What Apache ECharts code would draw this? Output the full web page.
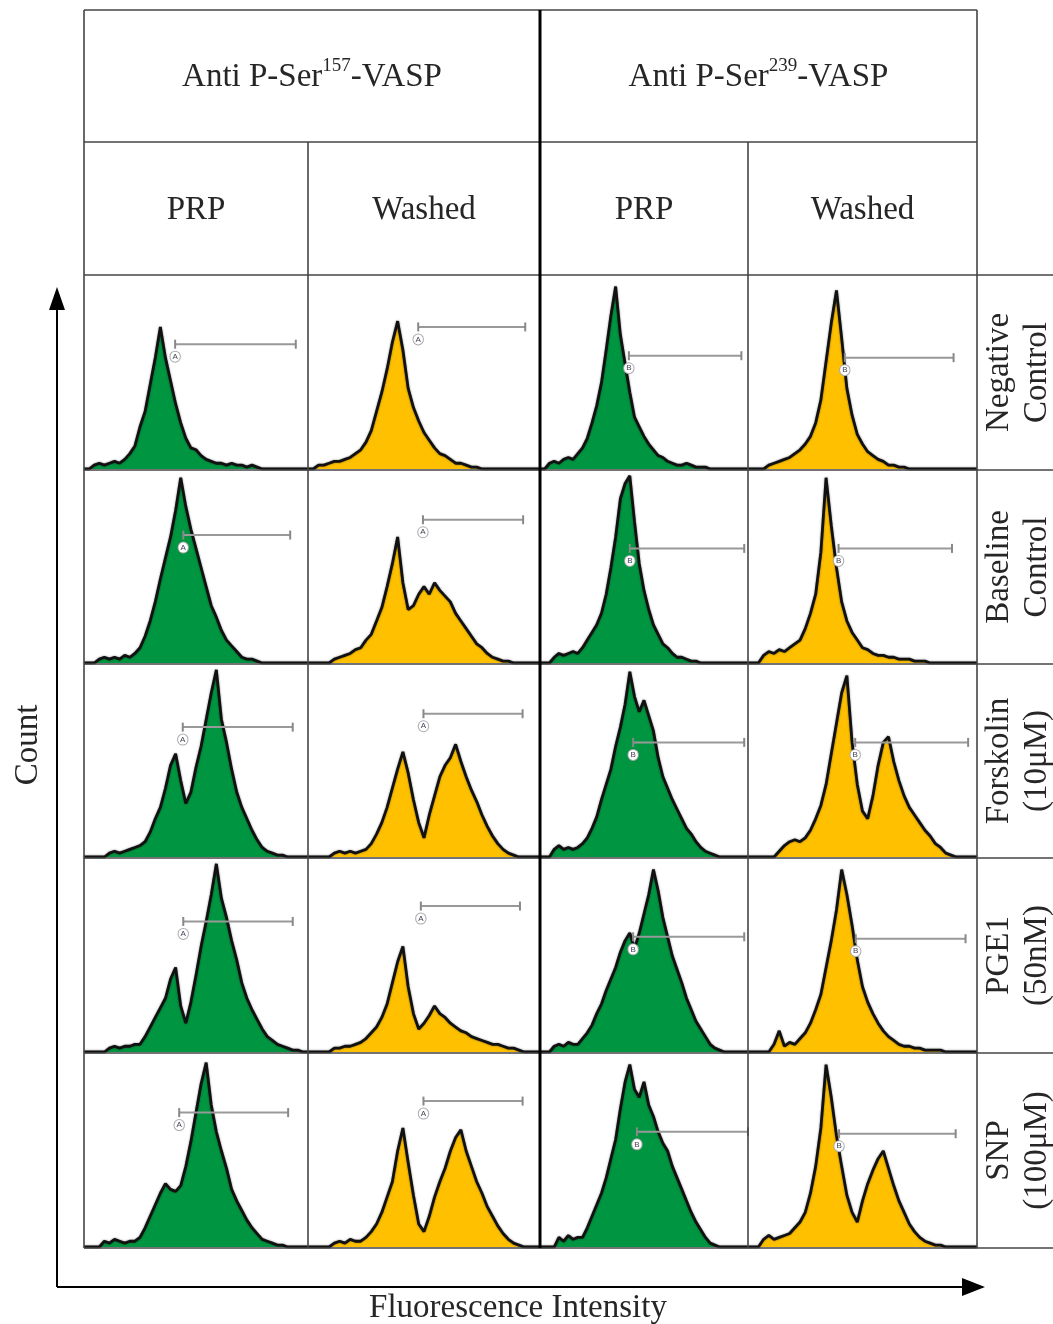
<!DOCTYPE html>
<html lang="en">
<head>
<meta charset="UTF-8">
<title>VASP phosphorylation histograms</title>
<style>
    html, body {margin: 0; background: #fff;}
    #main {width: 1053px; height: 1324px;}
</style>
</head>
<body>
<div id="main"></div>
<script src="https://cdn.jsdelivr.net/npm/echarts@6/dist/echarts.min.js"></script>
<script>
    // column headers, left half = Ser157, right half = Ser239
    const antibodies = ['157', '239']
    const columns = ['PRP', 'Washed', 'PRP', 'Washed']
    const treatments = [
        ['Negative', 'Control'],
        ['Baseline', 'Control'],
        ['Forskolin', '(10μM)'],
        ['PGE1', '(50nM)'],
        ['SNP', '(100μM)']
    ]
    const gateLetters = ['A', 'A', 'B', 'B']

    // histogram counts (% of panel height), 45 channels per panel
    // order in each row: 157 PRP, 157 Washed, 239 PRP, 239 Washed
    const negativeControl = [
        [0,0,2,3,2,3,4,3,5,8, 12,22,30,44,58,74,58,46,34,24, 16,11,10,7,5,4,3,3,2,3, 2,2,1,2,1,0,0,0,0,0, 0,0,0,0,0],
        [0,0,2,2,3,4,4,5,6,8, 10,14,20,30,40,52,66,77,62,42, 32,25,19,15,11,8,7,5,3,3, 2,1,1,0,0,0,0,0,0,0, 0,0,0,0,0],
        [0,0,3,4,3,5,6,5,8,11, 16,24,33,45,62,80,95,70,55,40, 27,22,17,13,10,7,6,4,3,2, 2,3,2,1,1,1,0,0,0,0, 0,0,0,0,0],
        [0,0,0,0,2,3,4,5,6,8, 10,13,17,24,36,56,76,93,68,42, 28,18,13,9,7,5,4,2,2,1, 1,0,0,0,0,0,0,0,0,0, 0,0,0,0,0]
    ]
    const baselineControl = [
        [0,0,0,2,3,2,3,2,4,3, 5,8,14,22,32,44,55,66,80,97, 82,70,60,50,40,30,24,17,12,9, 6,3,2,2,1,0,0,0,0,0, 0,0,0,0,0],
        [0,0,0,0,0,2,3,4,5,7, 8,12,15,22,29,40,52,66,42,28, 30,36,40,36,42,38,35,32,26,22, 18,14,10,8,5,3,2,1,1,0, 0,0,0,0,0],
        [0,0,0,3,5,4,5,6,5,8, 12,16,20,26,36,50,66,86,94,98, 74,52,38,28,20,15,10,8,5,3, 3,2,1,1,0,0,0,0,0,0, 0,0,0,0,0],
        [0,0,0,4,6,5,7,6,8,10, 12,18,26,36,58,97,72,50,32,22, 16,12,8,7,5,4,4,3,3,2, 2,2,1,1,1,0,0,0,0,0, 0,0,0,0,0]
    ]
    const forskolin = [
        [0,0,0,0,0,2,3,2,3,4, 5,6,8,13,20,26,36,48,54,40, 28,34,47,58,72,86,98,72,60,46, 34,26,20,14,9,5,3,2,1,1, 0,0,0,0,0],
        [0,0,0,0,0,2,3,2,3,2, 3,4,7,12,18,26,36,46,55,44, 30,18,10,22,32,42,48,52,59,50, 42,35,29,22,16,11,7,4,2,1, 0,0,0,0,0],
        [0,0,0,4,6,4,5,4,5,7, 10,15,21,30,38,46,58,68,80,97, 84,76,82,74,66,52,42,36,30,25, 20,15,12,8,5,3,2,1,0,0, 0,0,0,0,0],
        [0,0,0,0,0,0,3,6,8,9, 8,10,14,20,27,38,54,70,86,95, 60,38,24,20,32,48,60,63,50,40, 32,26,22,18,14,11,7,5,2,1, 0,0,0,0,0]
    ]
    const pge1 = [
        [0,0,0,0,0,2,3,2,3,3, 4,4,8,13,18,23,28,38,44,24, 15,26,40,55,68,82,98,80,70,58, 48,36,28,22,17,12,8,6,4,3, 2,1,1,0,0],
        [0,0,0,0,0,2,2,3,3,4, 5,7,10,13,18,25,36,47,55,34, 20,12,15,19,24,20,18,15,13,11, 10,8,7,6,5,4,4,3,2,2, 1,0,0,0,0],
        [0,0,0,3,4,3,5,4,4,7, 10,14,20,25,32,38,44,52,58,62, 54,62,72,82,95,84,70,60,50,43, 36,28,22,16,12,8,4,2,1,0, 0,0,0,0,0],
        [0,0,0,0,0,4,11,3,5,4, 7,10,15,22,30,44,58,74,95,82, 66,48,34,26,20,15,11,8,6,4, 3,3,2,2,1,1,1,1,0,0, 0,0,0,0,0]
    ]
    const snp = [
        [0,0,0,0,3,2,4,3,2,3, 3,5,10,16,22,28,33,30,29,32, 42,55,70,85,96,74,60,50,41,30, 24,19,14,10,7,4,3,2,1,1, 0,0,0,0,0],
        [0,0,0,0,0,2,3,2,4,3, 3,5,8,12,18,26,34,50,62,44, 27,12,8,16,26,34,41,50,57,61, 50,42,34,28,21,16,11,7,4,2, 1,0,0,0,0],
        [0,0,0,0,5,3,6,4,5,5, 10,16,22,28,36,46,56,72,86,95, 82,78,86,74,68,60,54,50,42,36, 30,24,18,13,9,5,2,1,0,0, 0,0,0,0,0],
        [0,0,0,4,6,4,5,6,7,10, 13,18,28,42,62,95,78,58,42,27, 18,13,24,33,40,46,50,41,32,24, 18,12,8,5,3,2,1,1,0,0, 0,0,0,0,0]
    ]

    // marker gates: [start channel, end channel, height]
    const gatesNegative = [[17.9, 41.6, 65], [20.9, 41.2, 74], [18.8, 42.6, 59], [18.6, 39.5, 58]]
    const gatesBaseline = [[19.5, 40.5, 67], [21.8, 40.8, 75], [19, 43.2, 60], [17.4, 39.2, 60]]
    const gatesForskolin = [[19.4, 41, 68], [21.9, 40.7, 75], [19.7, 43.2, 60], [20.6, 42.3, 60]]
    const gatesPge1 = [[19.5, 41, 68], [21.4, 40.2, 76], [19.7, 43.2, 60], [20.7, 41.8, 59]]
    const gatesSnp = [[18.7, 40.1, 70], [21.9, 40.7, 76], [20.5, 44, 60], [17.5, 39.9, 59]]

    const histRows = [negativeControl, baselineControl, forskolin, pge1, snp]
    const gateRows = [gatesNegative, gatesBaseline, gatesForskolin, gatesPge1, gatesSnp]

    // table layout (px)
    const colX = [84, 308, 540, 748, 977]
    const rowY = [275, 470, 664, 858, 1053, 1248]
    const fills = ['#009540', '#ffc000', '#009540', '#ffc000']
    const serif = '"Liberation Serif", "Times New Roman", serif'
    const lineColor = '#444'

    let grids = [], xAxes = [], yAxes = [], series = []
    histRows.forEach((row, r) => {
        row.forEach((hist, c) => {
            let k = grids.length
            grids.push({
                left: colX[c], top: rowY[r] + 2,
                width: colX[c + 1] - colX[c], height: rowY[r + 1] - rowY[r] - 3
            })
            xAxes.push({type: 'value', gridIndex: k, min: 0, max: 44, show: false})
            yAxes.push({type: 'value', gridIndex: k, min: 0, max: 100, show: false})
            series.push({
                type: 'line', xAxisIndex: k, yAxisIndex: k,
                data: hist.map((v, i) => [i, v]),
                symbol: 'none', silent: true,
                lineStyle: {color: '#111', width: 2.8, shadowColor: 'rgba(0,0,0,0.5)', shadowBlur: 2},
                areaStyle: {color: fills[c], opacity: 1},
                z: 2
            })
            let g = gateRows[r][c]
            series.push({
                type: 'line', xAxisIndex: k, yAxisIndex: k,
                data: [
                    {
                        value: [g[0], g[2]],
                        label: {
                            show: true, formatter: gateLetters[c], position: 'bottom', distance: 3,
                            fontSize: 8, color: '#445', backgroundColor: '#fff',
                            borderColor: '#aaa', borderWidth: 1, borderRadius: 6, padding: [1, 2]
                        }
                    },
                    [g[1], g[2]]
                ],
                symbol: 'rect', symbolSize: [2, 9], silent: true,
                itemStyle: {color: '#888'},
                lineStyle: {color: '#999', width: 2},
                z: 3
            })
        })
    })

    let graphics = []
    function hline(y, x1, x2, w, color) {
        graphics.push({type: 'line', shape: {x1: x1, y1: y, x2: x2, y2: y}, style: {stroke: color || lineColor, lineWidth: w || 1.6}, z: 10})
    }
    function vline(x, y1, y2, w, color) {
        graphics.push({type: 'line', shape: {x1: x, y1: y1, x2: x, y2: y2}, style: {stroke: color || lineColor, lineWidth: w || 1.6}, z: 10})
    }
    function text(str, x, y, extra) {
        graphics.push(Object.assign({
            type: 'text', x: x, y: y, z: 10,
            style: Object.assign({
                text: str, fontSize: 33, fontFamily: serif, fill: '#262626',
                align: 'center', verticalAlign: 'middle'
            }, (extra && extra.style) || {})
        }, extra && extra.rotation ? {rotation: extra.rotation} : {}))
    }

    // table frame
    hline(10, 84, 977)
    hline(142, 84, 977)
    rowY.forEach(y => hline(y, 84, 1053))
    vline(84, 10, 1248)
    vline(308, 142, 1248)
    vline(540, 10, 1248, 3, '#000')
    vline(748, 142, 1248)
    vline(977, 10, 1248)

    // headers
    antibodies.forEach((a, i) => {
        let cx = (colX[i * 2] + colX[i * 2 + 2]) / 2
        text('Anti P-Ser{s|' + a + '}-VASP', cx, 77, {
            style: {rich: {s: {fontSize: 19, fontFamily: serif, fill: '#262626', verticalAlign: 'top', lineHeight: 28}}, lineHeight: 40}
        })
    })
    columns.forEach((name, c) => text(name, (colX[c] + colX[c + 1]) / 2, 210))
    treatments.forEach((t, r) => text(t.join('\n'), 1018, (rowY[r] + rowY[r + 1]) / 2, {
        rotation: Math.PI / 2, style: {lineHeight: 38}
    }))

    // axes arrows
    vline(57, 300, 1287, 2, '#000')
    hline(1287, 57, 970, 2, '#000')
    graphics.push({type: 'polygon', shape: {points: [[57, 287], [49, 310], [65, 310]]}, style: {fill: '#000'}, z: 10})
    graphics.push({type: 'polygon', shape: {points: [[985, 1287], [962, 1278], [962, 1296]]}, style: {fill: '#000'}, z: 10})
    text('Count', 28, 745, {rotation: Math.PI / 2})
    text('Fluorescence Intensity', 518, 1308)

    let chart = echarts.init(document.getElementById('main'), null, {renderer: 'canvas'})
    chart.setOption({
        animation: false,
        backgroundColor: '#fff',
        grid: grids,
        xAxis: xAxes,
        yAxis: yAxes,
        series: series,
        graphic: graphics
    })
</script>
</body>
</html>
